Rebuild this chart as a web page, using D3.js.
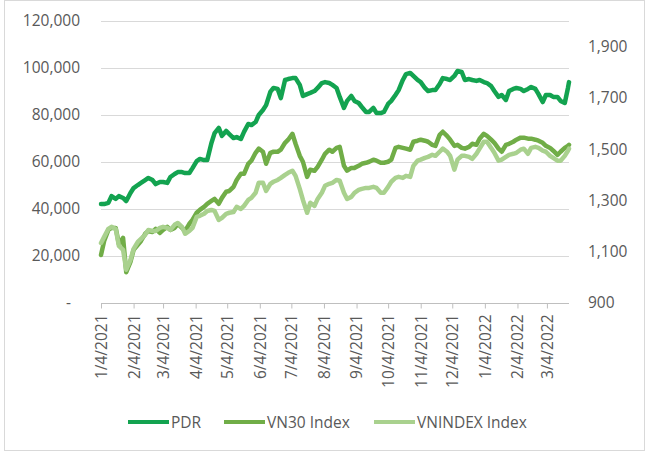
<!DOCTYPE html>
<html>
<head>
<meta charset="utf-8">
<script src="https://cdn.jsdelivr.net/npm/d3@7"></script>
<style>
  body { margin: 0; background: #fff; }
  svg { display: block; }
  text { font-family: "Open Sans", "Liberation Sans", sans-serif; }
</style>
</head>
<body>
<svg id="chart" width="650" height="453"></svg>
<script>
// ---------- DATA ----------
const dates = [
  "2021-01-04","2021-01-07","2021-01-11","2021-01-14","2021-01-18","2021-01-21","2021-01-25","2021-01-28",
  "2021-02-01","2021-02-04","2021-02-08","2021-02-11","2021-02-15","2021-02-18","2021-02-22","2021-02-25",
  "2021-03-01","2021-03-04","2021-03-08","2021-03-11","2021-03-15","2021-03-18","2021-03-22","2021-03-25","2021-03-29",
  "2021-04-01","2021-04-05","2021-04-08","2021-04-12","2021-04-15","2021-04-19","2021-04-22","2021-04-26","2021-04-29",
  "2021-05-03","2021-05-06","2021-05-10","2021-05-13","2021-05-17","2021-05-20","2021-05-24","2021-05-27","2021-05-31",
  "2021-06-03","2021-06-07","2021-06-10","2021-06-14","2021-06-17","2021-06-21","2021-06-24","2021-06-28",
  "2021-07-01","2021-07-05","2021-07-08","2021-07-12","2021-07-15","2021-07-19","2021-07-22","2021-07-26","2021-07-29",
  "2021-08-02","2021-08-05","2021-08-09","2021-08-12","2021-08-16","2021-08-19","2021-08-23","2021-08-26","2021-08-30",
  "2021-09-02","2021-09-06","2021-09-09","2021-09-13","2021-09-16","2021-09-20","2021-09-23","2021-09-27","2021-09-30",
  "2021-10-04","2021-10-07","2021-10-11","2021-10-14","2021-10-18","2021-10-21","2021-10-25","2021-10-28",
  "2021-11-01","2021-11-04","2021-11-08","2021-11-11","2021-11-15","2021-11-18","2021-11-22","2021-11-25","2021-11-29",
  "2021-12-02","2021-12-06","2021-12-09","2021-12-13","2021-12-16","2021-12-20","2021-12-23","2021-12-27","2021-12-30",
  "2022-01-03","2022-01-06","2022-01-10","2022-01-13","2022-01-17","2022-01-20","2022-01-24","2022-01-27","2022-01-31",
  "2022-02-03","2022-02-07","2022-02-10","2022-02-14","2022-02-17","2022-02-21","2022-02-24","2022-02-28",
  "2022-03-03","2022-03-07","2022-03-10","2022-03-14","2022-03-17","2022-03-21","2022-03-24","2022-03-25"
];

const pdr = [
  42100,42100,42600,45500,44300,45500,44700,43400,
  46800,48900,50200,51100,52300,53200,52300,50600,
  51500,51500,51100,53600,54900,55700,55700,55300,55300,
  57400,60400,61300,60800,60800,68100,72300,74500,71100,
  73200,71900,70200,70600,69800,72800,76200,75700,77000,
  80000,82100,84200,89800,91500,91100,87200,94900,
  95300,95700,95700,92800,88100,88900,89400,90200,91500,
  93600,94000,93600,92800,91500,87700,83000,86000,88100,
  86000,85100,83400,81300,81300,83000,80800,80800,81300,
  84700,86000,88500,90600,94900,97400,97900,96600,
  94900,94000,91500,90200,90600,90600,93200,95700,95300,
  94900,96600,98700,98300,94900,95300,94900,94500,94900,
  94000,93600,92300,90200,87700,88500,86400,90200,91100,
  91500,91100,90200,91100,91900,91100,88900,85500,
  88500,88500,87700,87700,86000,85100,91500,94000
];

const vn30 = [
  1087,1142,1185,1193,1193,1130,1154,1020,
  1060,1107,1127,1142,1170,1181,1177,1189,
  1173,1185,1197,1185,1193,1209,1193,1181,1209,
  1224,1252,1263,1275,1287,1298,1306,1287,1310,
  1334,1337,1353,1380,1404,1404,1443,1455,1486,
  1502,1490,1443,1486,1490,1490,1498,1525,
  1537,1560,1521,1474,1451,1392,1420,1416,1431,
  1459,1482,1498,1490,1505,1509,1435,1416,1427,
  1427,1435,1443,1447,1451,1459,1455,1447,1447,
  1451,1459,1505,1509,1505,1502,1498,1529,
  1533,1537,1533,1529,1517,1513,1556,1568,1552,
  1537,1513,1517,1505,1502,1509,1521,1517,1541,
  1560,1552,1537,1525,1502,1490,1517,1521,1529,
  1537,1545,1545,1541,1541,1537,1533,1525,
  1513,1505,1494,1478,1490,1505,1513,1517
];

const vnindex = [
  1134,1158,1189,1197,1189,1123,1107,1030,
  1068,1111,1138,1150,1166,1185,1181,1181,
  1193,1197,1193,1185,1205,1212,1197,1170,1181,
  1193,1236,1240,1248,1259,1263,1259,1224,1232,
  1248,1252,1255,1275,1267,1279,1302,1310,1330,
  1369,1369,1337,1365,1373,1380,1388,1400,
  1408,1416,1396,1345,1302,1252,1291,1279,1306,
  1330,1357,1365,1369,1380,1377,1330,1306,1314,
  1330,1341,1345,1349,1349,1353,1349,1330,1330,
  1353,1373,1388,1392,1388,1396,1392,1435,
  1455,1459,1466,1470,1478,1474,1490,1502,1490,
  1474,1420,1459,1474,1474,1470,1462,1482,1502,
  1529,1529,1505,1486,1455,1459,1470,1478,1482,
  1486,1498,1502,1482,1505,1509,1505,1494,
  1490,1474,1466,1455,1455,1474,1494,1502
];

const seriesNames = ["PDR", "VN30 Index", "VNINDEX Index"];
const leftTicks = [0, 20000, 40000, 60000, 80000, 100000, 120000];
const rightTicks = [900, 1100, 1300, 1500, 1700, 1900];
const xTickDates = [
  "2021-01-04","2021-02-04","2021-03-04","2021-04-04","2021-05-04","2021-06-04","2021-07-04",
  "2021-08-04","2021-09-04","2021-10-04","2021-11-04","2021-12-04","2022-01-04","2022-02-04","2022-03-04"
];

// ---------- LAYOUT / STYLE ----------
const plot = { left: 101, right: 569, top: 21, bottom: 303 };
const colors = ["#13a350", "#70ad47", "#a9d18e"];
const textColor = "#595959";
const gridColor = "#d9d9d9";
const fontSize = "15.5px";
const lineWidth = 4.5;

const parse = d3.timeParse("%Y-%m-%d");
const fmtTick = d3.timeFormat("%-m/%-d/%Y");
const dateObjs = dates.map(parse);

const svg = d3.select("#chart");

// chart border
svg.append("rect")
  .attr("x", 4.5).attr("y", 0.5)
  .attr("width", 640).attr("height", 450)
  .attr("fill", "#fff").attr("stroke", gridColor).attr("stroke-width", 1);

const x = d3.scaleTime()
  .domain([dateObjs[0], dateObjs[dateObjs.length - 1]])
  .range([plot.left, plot.right]);
const yL = d3.scaleLinear().domain([0, 120000]).range([plot.bottom, plot.top]);
const yR = d3.scaleLinear().domain([900, 2000]).range([plot.bottom, plot.top]);

// gridlines
svg.append("g").selectAll("line")
  .data(leftTicks.filter(d => d > 0))
  .join("line")
  .attr("x1", plot.left).attr("x2", plot.right)
  .attr("y1", d => Math.round(yL(d)) + 0.5).attr("y2", d => Math.round(yL(d)) + 0.5)
  .attr("stroke", gridColor).attr("stroke-width", 1);

// left axis
const gL = svg.append("g").attr("transform", `translate(${plot.left},0)`)
  .call(d3.axisLeft(yL).tickValues(leftTicks).tickSize(0).tickPadding(21)
    .tickFormat(d => d === 0 ? "-" : d3.format(",")(d)));
gL.select(".domain").remove();
gL.selectAll("text").attr("fill", textColor).style("font-size", fontSize)
  .style("font-family", '"Open Sans", sans-serif');
gL.selectAll(".tick").filter(d => d === 0).select("text").attr("x", -30);

// right axis
const gR = svg.append("g").attr("transform", `translate(${plot.right},0)`)
  .call(d3.axisRight(yR).tickValues(rightTicks).tickSize(0).tickPadding(19)
    .tickFormat(d3.format(",")));
gR.select(".domain").remove();
gR.selectAll("text").attr("fill", textColor).style("font-size", fontSize)
  .style("font-family", '"Open Sans", sans-serif');

// bottom axis
const gB = svg.append("g").attr("transform", `translate(0,${plot.bottom + 0.5})`)
  .call(d3.axisBottom(x).tickValues(xTickDates.map(parse)).tickSizeInner(5).tickSizeOuter(0)
    .tickFormat(fmtTick));
gB.select(".domain").attr("stroke", "#bfbfbf").attr("d", `M${plot.left},0H${plot.right}`);
gB.selectAll(".tick line").attr("stroke", "#bfbfbf");
gB.selectAll(".tick text")
  .attr("fill", textColor).style("font-size", fontSize)
  .style("font-family", '"Open Sans", sans-serif')
  .attr("transform", "rotate(-90)")
  .attr("text-anchor", "end")
  .attr("x", -11).attr("y", 0).attr("dy", "0.35em");

// lines
const series = [
  { name: seriesNames[0], values: pdr, scale: yL, color: colors[0] },
  { name: seriesNames[1], values: vn30, scale: yR, color: colors[1] },
  { name: seriesNames[2], values: vnindex, scale: yR, color: colors[2] }
];

series.forEach(s => {
  const line = d3.line()
    .x((d, i) => x(dateObjs[i]))
    .y(d => s.scale(d))
    .curve(d3.curveLinear);
  svg.append("path")
    .datum(s.values)
    .attr("d", line)
    .attr("fill", "none")
    .attr("stroke", s.color)
    .attr("stroke-width", lineWidth)
    .attr("stroke-linejoin", "round")
    .attr("stroke-linecap", "round");
});

// legend
const legendX = [128, 224, 374];
const legendY = 422;
const lg = svg.append("g");
series.forEach((s, i) => {
  lg.append("line")
    .attr("x1", legendX[i]).attr("x2", legendX[i] + 41)
    .attr("y1", legendY).attr("y2", legendY)
    .attr("stroke", s.color).attr("stroke-width", 4);
  lg.append("text")
    .attr("x", legendX[i] + 43).attr("y", legendY).attr("dy", "0.36em")
    .attr("fill", textColor).style("font-size", fontSize)
    .text(s.name);
});
</script>
</body>
</html>
